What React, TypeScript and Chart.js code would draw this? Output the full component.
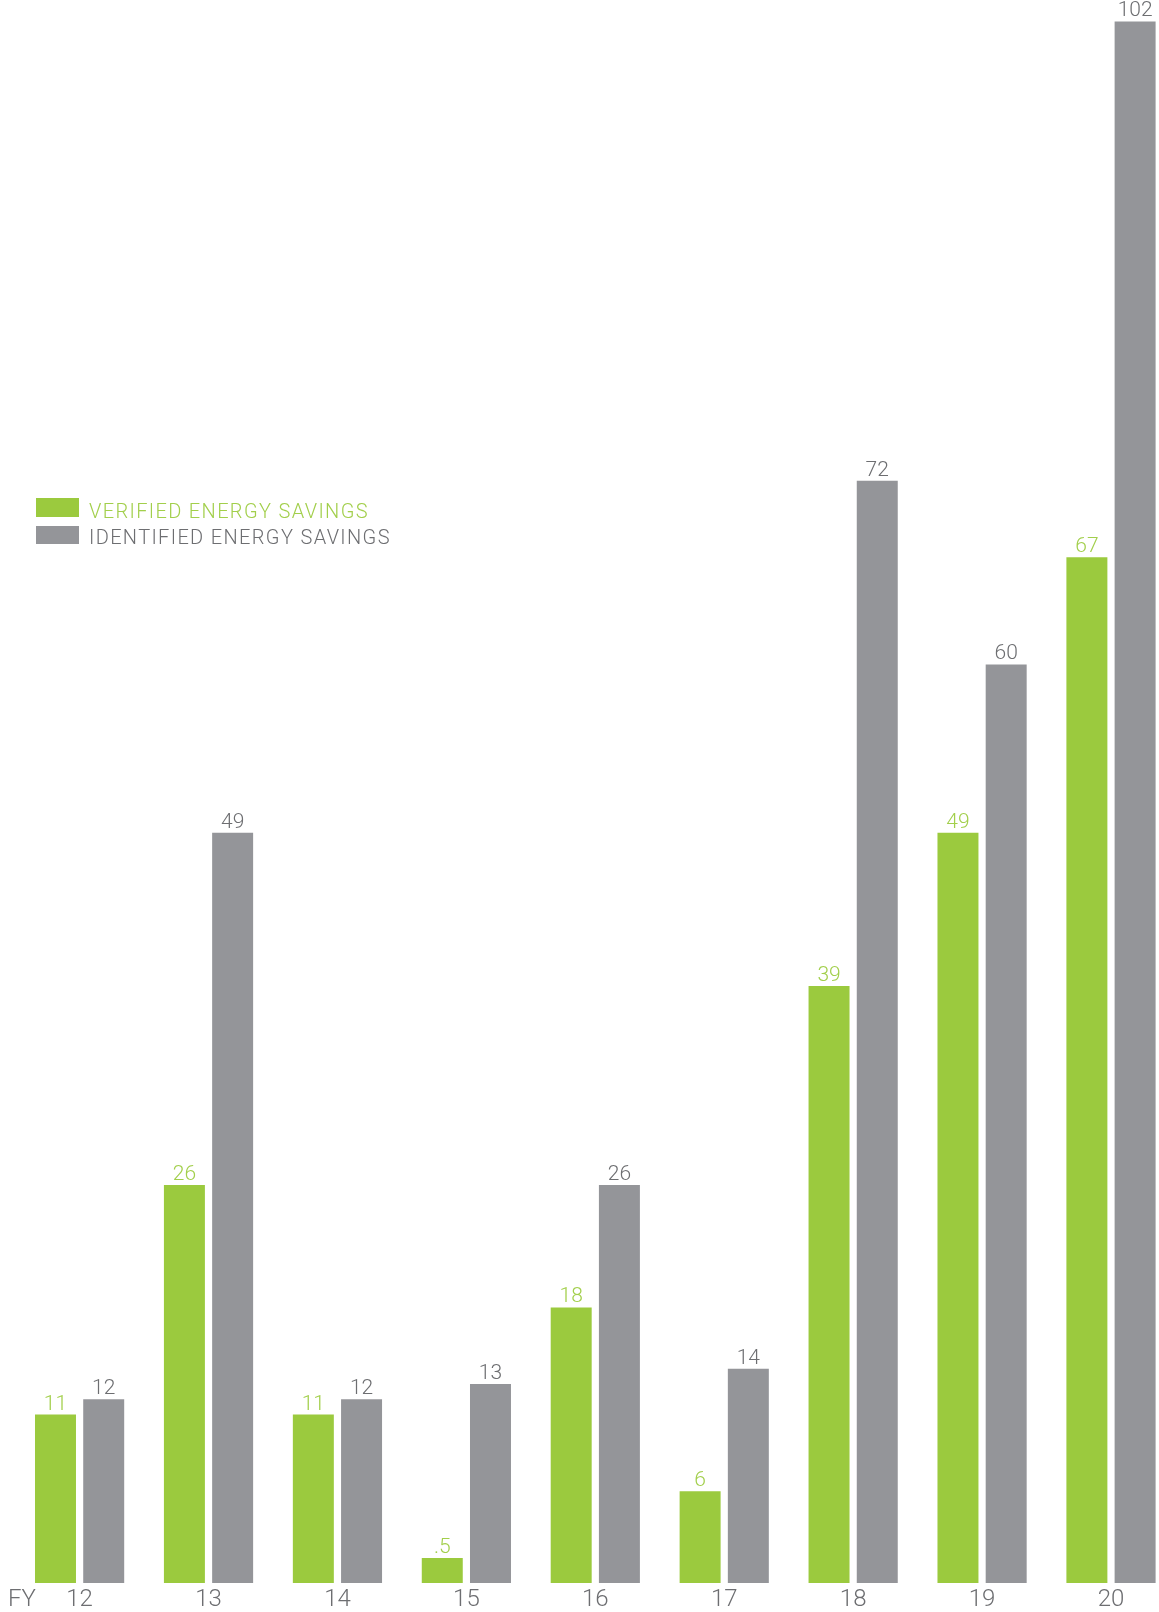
import React, { useEffect, useRef } from "react";
import { Chart, registerables } from "chart.js";

Chart.register(...registerables);

// ---- Data ----
const categories = ["12", "13", "14", "15", "16", "17", "18", "19", "20"];
const verifiedSavings = [11, 26, 11, 0.5, 18, 6, 39, 49, 67];
const identifiedSavings = [12, 49, 12, 13, 26, 14, 72, 60, 102];
const seriesNames = ["VERIFIED ENERGY SAVINGS", "IDENTIFIED ENERGY SAVINGS"];
const axisPrefix = "FY";

// ---- Styles ----
const GREEN = "#9bca3e";
const GRAY = "#949599";
const GREEN_TEXT = "#a2cf4b";
const GRAY_TEXT = "#6d6e71";
const FONT = "Roboto, 'Noto Sans', sans-serif";

const fmt = (v: number) => (v < 1 ? String(v).replace(/^0/, "") : String(v));

const valueLabelPlugin = {
  id: "valueLabels",
  afterDatasetsDraw(chart: any) {
    const ctx = chart.ctx;
    ctx.save();
    ctx.font = `300 21px ${FONT}`;
    ctx.textAlign = "center";
    ctx.textBaseline = "alphabetic";
    const colors = [GREEN_TEXT, GRAY_TEXT];
    chart.data.datasets.forEach((ds: any, i: number) => {
      const meta = chart.getDatasetMeta(i);
      ctx.fillStyle = colors[i];
      meta.data.forEach((el: any, j: number) => {
        ctx.fillText(fmt(ds.data[j]), el.x, el.y - 5);
      });
    });
    ctx.restore();
  },
};

const prefixPlugin = {
  id: "axisPrefix",
  afterDraw(chart: any) {
    const scale = chart.scales.x;
    const ctx = chart.ctx;
    ctx.save();
    ctx.font = `300 24px ${FONT}`;
    ctx.fillStyle = GRAY_TEXT;
    ctx.textAlign = "center";
    ctx.textBaseline = "middle";
    ctx.fillText(axisPrefix, 22, scale.top + 5 + 12);
    ctx.restore();
  },
};

export default function App() {
  const canvasRef = useRef<HTMLCanvasElement | null>(null);

  useEffect(() => {
    document.body.style.margin = "0";
    const canvas = canvasRef.current;
    if (!canvas) return;
    const chart = new Chart(canvas, {
      type: "bar",
      data: {
        labels: categories,
        datasets: [
          {
            label: seriesNames[0],
            data: verifiedSavings,
            backgroundColor: GREEN,
            minBarLength: 25,
            clip: false as any,
          },
          {
            label: seriesNames[1],
            data: identifiedSavings,
            backgroundColor: GRAY,
            clip: false as any,
          },
        ],
      },
      options: {
        responsive: false,
        animation: false,
        devicePixelRatio: 1,
        layout: { padding: { left: 79.6, right: 48, top: 0, bottom: 1 } },
        datasets: {
          bar: { categoryPercentage: 0.748, barPercentage: 0.85 },
        },
        plugins: {
          legend: { display: false },
          tooltip: { enabled: false },
          title: { display: false },
        },
        scales: {
          x: {
            offset: false,
            grid: { display: false, drawTicks: false },
            border: { display: false },
            ticks: {
              padding: 5,
              color: GRAY_TEXT,
              font: { family: FONT, size: 24, weight: "300" as any, lineHeight: 1 },
              maxRotation: 0,
              autoSkip: false,
            },
          },
          y: {
            display: false,
            min: 0,
            max: 103.4,
          },
        },
      },
      plugins: [valueLabelPlugin, prefixPlugin],
    });
    return () => chart.destroy();
  }, []);

  const legendText: React.CSSProperties = {
    position: "absolute",
    left: 89,
    fontFamily: FONT,
    fontWeight: 300,
    fontSize: 20,
    lineHeight: "20px",
    letterSpacing: "1.35px",
    whiteSpace: "nowrap",
  };

  return (
    <div style={{ position: "relative", width: 1159, height: 1612, overflow: "hidden", background: "#fff" }}>
      <canvas ref={canvasRef} width={1159} height={1618} style={{ display: "block" }} />
      <div style={{ position: "absolute", left: 36, top: 498.3, width: 42.7, height: 18.4, background: GREEN }} />
      <div style={{ position: "absolute", left: 36, top: 526, width: 42.7, height: 18.4, background: GRAY }} />
      <span style={{ ...legendText, top: 500.7, color: GREEN_TEXT }}>{seriesNames[0]}</span>
      <span style={{ ...legendText, top: 527.4, color: GRAY_TEXT }}>{seriesNames[1]}</span>
    </div>
  );
}
